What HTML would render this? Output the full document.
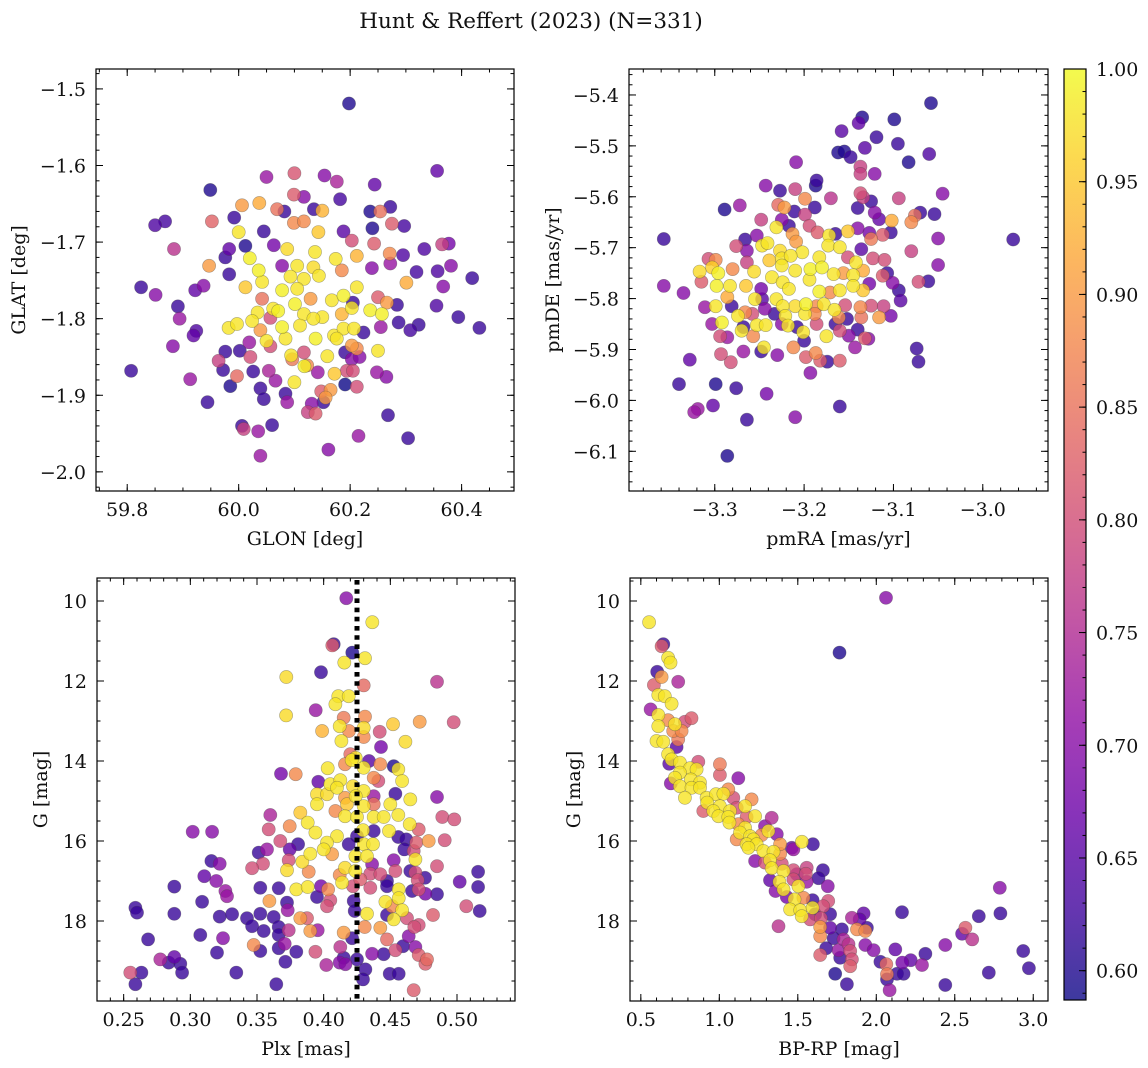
<!DOCTYPE html>
<html><head><meta charset="utf-8"><style>
html,body{margin:0;padding:0;background:#fff}
svg{display:block;font-family:"DejaVu Serif","Liberation Serif",serif}
</style></head><body>
<svg id="fig" width="1148" height="1068" viewBox="0 0 1148 1068" xmlns="http://www.w3.org/2000/svg">
<text x="531" y="28" font-size="21.5" text-anchor="middle" fill="#111">Hunt &amp; Reffert (2023) (N=331)</text>
</svg>
<script>
const p1Glon=[60.198,60.356,59.949,60.050,60.100,60.154,60.176,60.244,60.099,60.117,60.182,60.006,60.037,59.850,59.868,59.952,59.992,60.069,60.082,60.135,60.150,60.236,60.254,60.272,60.240,60.275,60.297,59.884,60.000,60.045,60.099,60.117,60.143,60.188,60.203,60.243,60.333,60.365,60.377,59.947,59.983,59.976,60.012,60.063,60.087,60.137,60.174,60.212,60.271,60.295,60.020,59.983,60.036,60.078,60.105,60.134,60.185,60.239,60.272,60.319,60.357,60.381,60.419,59.825,59.851,59.922,59.937,60.012,60.042,60.093,60.117,60.144,60.212,60.301,60.367,59.891,60.042,60.078,60.105,60.129,60.167,60.188,60.205,60.250,60.266,60.284,60.355,59.894,60.034,60.062,60.071,60.101,60.117,60.150,60.185,60.203,60.236,60.257,60.287,60.323,60.394,60.432,59.919,59.924,59.982,59.997,60.024,60.039,60.057,60.078,60.110,60.134,60.171,60.188,60.207,60.224,60.255,60.308,59.882,60.019,60.050,60.084,60.138,60.176,60.203,60.250,59.976,60.002,60.057,60.094,60.117,60.159,60.191,60.212,59.807,59.964,60.021,60.096,60.123,60.203,60.217,60.118,59.913,59.972,59.997,60.026,60.054,60.066,60.142,60.172,60.194,60.205,60.248,60.265,59.985,60.039,60.100,60.191,60.212,60.148,60.165,59.944,60.045,60.084,60.087,60.131,60.152,60.156,60.124,60.138,60.268,60.006,60.009,60.060,60.035,60.215,60.304,60.161,60.039];
const p1Glat=[-1.519,-1.607,-1.632,-1.615,-1.610,-1.613,-1.621,-1.625,-1.638,-1.641,-1.644,-1.652,-1.649,-1.678,-1.673,-1.673,-1.668,-1.657,-1.660,-1.657,-1.659,-1.660,-1.660,-1.654,-1.682,-1.676,-1.679,-1.709,-1.687,-1.686,-1.675,-1.673,-1.687,-1.686,-1.698,-1.702,-1.709,-1.703,-1.702,-1.731,-1.709,-1.720,-1.705,-1.704,-1.709,-1.713,-1.722,-1.718,-1.715,-1.717,-1.721,-1.742,-1.737,-1.731,-1.731,-1.733,-1.737,-1.734,-1.728,-1.739,-1.738,-1.731,-1.747,-1.759,-1.769,-1.763,-1.757,-1.759,-1.752,-1.745,-1.748,-1.744,-1.759,-1.753,-1.758,-1.784,-1.774,-1.763,-1.761,-1.774,-1.776,-1.770,-1.779,-1.772,-1.779,-1.782,-1.783,-1.800,-1.792,-1.787,-1.790,-1.781,-1.794,-1.798,-1.794,-1.786,-1.789,-1.794,-1.805,-1.808,-1.798,-1.812,-1.822,-1.816,-1.812,-1.807,-1.803,-1.815,-1.799,-1.811,-1.809,-1.800,-1.822,-1.813,-1.813,-1.818,-1.811,-1.815,-1.836,-1.831,-1.829,-1.826,-1.826,-1.826,-1.835,-1.842,-1.843,-1.842,-1.836,-1.848,-1.844,-1.849,-1.844,-1.839,-1.868,-1.855,-1.850,-1.853,-1.861,-1.853,-1.850,-1.862,-1.879,-1.867,-1.875,-1.869,-1.868,-1.881,-1.870,-1.872,-1.868,-1.868,-1.870,-1.876,-1.888,-1.891,-1.883,-1.886,-1.889,-1.895,-1.893,-1.909,-1.905,-1.898,-1.909,-1.911,-1.909,-1.903,-1.922,-1.924,-1.926,-1.940,-1.944,-1.939,-1.947,-1.953,-1.956,-1.971,-1.979];
const p1Prob=[0.60,0.66,0.60,0.72,0.81,0.70,0.74,0.66,0.82,0.70,0.63,0.90,0.92,0.64,0.63,0.83,0.62,0.85,0.62,0.62,0.93,0.60,0.85,0.62,0.60,0.82,0.63,0.76,0.98,0.62,0.88,0.88,0.95,0.65,0.80,0.82,0.64,0.78,0.68,0.90,0.66,0.62,0.60,0.68,0.97,0.98,0.98,0.93,0.88,0.64,0.99,0.62,0.99,0.70,0.98,0.97,0.88,0.70,0.72,0.63,0.64,0.70,0.62,0.62,0.70,0.66,0.70,0.95,0.98,0.98,0.98,0.98,0.98,0.92,0.70,0.62,0.85,0.99,0.98,0.90,0.98,0.99,0.62,0.82,0.90,0.62,0.64,0.72,0.98,0.98,0.99,0.99,0.98,0.98,0.93,0.98,0.99,0.99,0.62,0.62,0.62,0.62,0.66,0.64,0.98,0.98,0.98,0.90,0.80,0.99,0.98,0.98,0.98,0.98,0.98,0.62,0.72,0.63,0.70,0.72,0.98,0.98,0.99,0.98,0.90,0.98,0.62,0.62,0.80,0.98,0.80,0.98,0.62,0.88,0.62,0.78,0.80,0.86,0.88,0.70,0.70,0.99,0.72,0.62,0.84,0.62,0.74,0.72,0.72,0.95,0.80,0.80,0.72,0.70,0.60,0.62,0.98,0.58,0.80,0.82,0.90,0.62,0.62,0.62,0.72,0.70,0.62,0.90,0.78,0.82,0.62,0.62,0.78,0.62,0.72,0.72,0.62,0.70,0.72];

const p2PmRA=[-3.058,-3.135,-3.139,-3.099,-3.158,-3.119,-3.095,-3.132,-3.162,-3.155,-3.148,-3.060,-3.083,-3.209,-3.137,-3.121,-3.137,-3.186,-3.187,-3.243,-3.227,-3.210,-3.137,-3.134,-3.125,-3.045,-3.199,-3.170,-3.094,-3.289,-3.272,-3.229,-3.222,-3.188,-3.140,-3.211,-3.199,-3.121,-3.070,-3.054,-3.248,-3.225,-3.116,-3.102,-3.076,-3.080,-3.231,-3.217,-3.194,-3.151,-3.140,-3.127,-3.103,-3.357,-2.966,-3.253,-3.266,-3.213,-3.185,-3.172,-3.165,-3.125,-3.112,-3.050,-3.276,-3.264,-3.247,-3.241,-3.227,-3.209,-3.202,-3.173,-3.160,-3.136,-3.080,-3.307,-3.299,-3.264,-3.239,-3.225,-3.215,-3.183,-3.151,-3.142,-3.123,-3.110,-3.050,-3.317,-3.303,-3.296,-3.280,-3.256,-3.236,-3.225,-3.210,-3.193,-3.180,-3.167,-3.156,-3.145,-3.134,-3.112,-3.107,-3.101,-3.072,-3.061,-3.357,-3.335,-3.315,-3.298,-3.283,-3.265,-3.248,-3.224,-3.217,-3.194,-3.183,-3.171,-3.160,-3.145,-3.134,-3.127,-3.094,-3.092,-3.286,-3.299,-3.281,-3.255,-3.247,-3.231,-3.224,-3.210,-3.198,-3.186,-3.178,-3.166,-3.154,-3.137,-3.125,-3.111,-3.311,-3.274,-3.266,-3.258,-3.244,-3.233,-3.221,-3.199,-3.188,-3.161,-3.152,-3.136,-3.116,-3.103,-3.303,-3.292,-3.268,-3.253,-3.243,-3.225,-3.218,-3.208,-3.186,-3.165,-3.160,-3.140,-3.270,-3.201,-3.294,-3.286,-3.257,-3.175,-3.150,-3.132,-3.128,-3.200,-3.143,-3.245,-3.248,-3.268,-3.212,-3.293,-3.230,-3.198,-3.187,-3.160,-3.174,-3.182,-3.282,-3.074,-3.072,-3.328,-3.193,-3.340,-3.299,-3.276,-3.242,-3.160,-3.302,-3.319,-3.323,-3.264,-3.210,-3.286];
const p2PmDE=[-5.416,-5.444,-5.455,-5.448,-5.471,-5.483,-5.496,-5.504,-5.513,-5.511,-5.522,-5.516,-5.532,-5.532,-5.541,-5.555,-5.555,-5.568,-5.578,-5.578,-5.588,-5.585,-5.593,-5.601,-5.609,-5.594,-5.604,-5.603,-5.603,-5.625,-5.617,-5.616,-5.621,-5.621,-5.622,-5.629,-5.635,-5.631,-5.631,-5.634,-5.645,-5.645,-5.644,-5.647,-5.637,-5.650,-5.660,-5.657,-5.657,-5.668,-5.662,-5.671,-5.670,-5.683,-5.684,-5.676,-5.684,-5.673,-5.670,-5.676,-5.673,-5.683,-5.675,-5.682,-5.697,-5.706,-5.696,-5.691,-5.706,-5.688,-5.709,-5.696,-5.699,-5.703,-5.707,-5.722,-5.724,-5.729,-5.725,-5.721,-5.716,-5.719,-5.719,-5.729,-5.721,-5.724,-5.734,-5.747,-5.739,-5.750,-5.742,-5.747,-5.758,-5.735,-5.745,-5.742,-5.739,-5.752,-5.750,-5.754,-5.745,-5.755,-5.750,-5.769,-5.767,-5.766,-5.775,-5.789,-5.767,-5.775,-5.775,-5.775,-5.781,-5.768,-5.781,-5.763,-5.786,-5.788,-5.784,-5.775,-5.784,-5.771,-5.784,-5.804,-5.797,-5.815,-5.815,-5.801,-5.801,-5.801,-5.815,-5.815,-5.811,-5.815,-5.811,-5.822,-5.813,-5.817,-5.814,-5.815,-5.817,-5.834,-5.827,-5.830,-5.820,-5.830,-5.834,-5.830,-5.830,-5.837,-5.840,-5.837,-5.837,-5.834,-5.850,-5.847,-5.856,-5.852,-5.852,-5.850,-5.853,-5.856,-5.850,-5.850,-5.863,-5.861,-5.863,-5.866,-5.874,-5.876,-5.874,-5.874,-5.873,-5.878,-5.879,-5.883,-5.896,-5.896,-5.904,-5.904,-5.896,-5.909,-5.911,-5.915,-5.907,-5.922,-5.924,-5.922,-5.925,-5.898,-5.924,-5.920,-5.946,-5.968,-5.968,-5.976,-5.987,-6.012,-6.010,-6.017,-6.023,-6.038,-6.033,-6.109];
const p2Prob=[0.60,0.60,0.66,0.60,0.65,0.62,0.62,0.65,0.60,0.60,0.62,0.64,0.60,0.70,0.78,0.70,0.78,0.62,0.60,0.70,0.62,0.78,0.80,0.78,0.62,0.70,0.88,0.76,0.78,0.60,0.72,0.84,0.90,0.62,0.62,0.62,0.78,0.70,0.62,0.62,0.78,0.70,0.66,0.92,0.85,0.88,0.98,0.62,0.80,0.95,0.70,0.68,0.62,0.62,0.62,0.70,0.62,0.90,0.82,0.98,0.62,0.86,0.82,0.70,0.80,0.70,0.98,0.98,0.97,0.90,0.98,0.98,0.98,0.65,0.78,0.80,0.88,0.78,0.95,0.98,0.98,0.98,0.80,0.98,0.80,0.80,0.70,0.97,0.96,0.99,0.88,0.97,0.98,0.98,0.98,0.99,0.99,0.98,0.90,0.98,0.92,0.82,0.62,0.70,0.80,0.62,0.70,0.70,0.82,0.99,0.98,0.95,0.68,0.98,0.98,0.98,0.99,0.88,0.98,0.98,0.95,0.68,0.62,0.65,0.92,0.98,0.62,0.98,0.65,0.98,0.98,0.97,0.99,0.88,0.98,0.98,0.80,0.88,0.80,0.78,0.72,0.98,0.88,0.80,0.70,0.62,0.98,0.98,0.88,0.88,0.62,0.85,0.90,0.68,0.72,0.99,0.62,0.98,0.98,0.70,0.98,0.62,0.80,0.62,0.80,0.62,0.98,0.98,0.80,0.72,0.88,0.98,0.70,0.82,0.70,0.62,0.72,0.98,0.62,0.72,0.88,0.80,0.70,0.82,0.88,0.82,0.62,0.82,0.80,0.62,0.62,0.66,0.70,0.62,0.60,0.62,0.68,0.62,0.66,0.72,0.72,0.62,0.70,0.60];

const p3Plx=[0.417,0.4365,0.4075,0.4065,0.4215,0.4155,0.431,0.398,0.372,0.43,0.485,0.411,0.4188,0.4088,0.394,0.3718,0.415,0.431,0.472,0.4975,0.3988,0.412,0.419,0.43,0.442,0.452,0.4133,0.43,0.4613,0.443,0.42,0.424,0.434,0.4425,0.368,0.379,0.403,0.416,0.421,0.43,0.4375,0.4525,0.456,0.4588,0.396,0.405,0.4125,0.41,0.422,0.43,0.441,0.395,0.4025,0.416,0.424,0.4375,0.4538,0.485,0.395,0.4175,0.43,0.4375,0.45,0.465,0.3825,0.4088,0.416,0.425,0.4375,0.445,0.456,0.4645,0.489,0.498,0.36,0.388,0.4295,0.4375,0.449,0.4713,0.3018,0.3163,0.3588,0.3745,0.3938,0.41,0.425,0.456,0.462,0.4025,0.3675,0.3808,0.4188,0.43,0.437,0.4695,0.4788,0.4908,0.3513,0.3575,0.3745,0.4063,0.4,0.4238,0.4325,0.39,0.4605,0.4675,0.3158,0.322,0.3545,0.3738,0.384,0.4525,0.4688,0.3463,0.3725,0.3888,0.416,0.4238,0.4363,0.435,0.4538,0.465,0.485,0.5158,0.3105,0.412,0.4275,0.4425,0.4688,0.476,0.502,0.3195,0.4138,0.4475,0.4705,0.288,0.3263,0.3525,0.3663,0.3795,0.388,0.398,0.4033,0.422,0.435,0.4475,0.4563,0.4663,0.4713,0.5158,0.3275,0.395,0.405,0.4225,0.4563,0.4763,0.485,0.3088,0.3593,0.3725,0.4025,0.4463,0.4513,0.2588,0.26,0.288,0.322,0.3313,0.3425,0.3525,0.3625,0.373,0.3825,0.3875,0.4233,0.4325,0.4475,0.4588,0.4525,0.4625,0.482,0.507,0.517,0.3463,0.355,0.3663,0.3738,0.39,0.3955,0.415,0.4308,0.4425,0.4713,0.468,0.2683,0.3075,0.3245,0.3663,0.4213,0.4475,0.4638,0.3475,0.3525,0.3663,0.3708,0.3795,0.3938,0.4125,0.4363,0.445,0.4538,0.4595,0.4688,0.32,0.2775,0.2838,0.288,0.2925,0.2938,0.415,0.412,0.4163,0.425,0.3713,0.402,0.4713,0.4763,0.4775,0.255,0.2633,0.2588,0.3345,0.3645,0.4313,0.4295,0.4495,0.4563,0.4675];
const p3G=[9.93,10.53,11.08,11.11,11.29,11.54,11.43,11.78,11.90,12.11,12.02,12.38,12.38,12.58,12.73,12.86,12.92,12.89,13.02,13.03,13.25,13.13,13.25,13.17,13.27,13.08,13.5,13.4,13.52,13.65,13.83,13.92,14.0,14.08,14.32,14.33,14.18,14.08,13.98,14.17,14.42,14.13,14.21,14.5,14.52,14.58,14.48,14.67,14.63,14.75,14.5,14.83,14.83,14.92,14.88,14.88,14.82,14.9,15.08,15.08,15.13,15.08,15.08,14.96,15.29,15.25,15.38,15.4,15.4,15.4,15.35,15.58,15.4,15.46,15.35,15.54,15.73,15.75,15.75,15.71,15.77,15.77,15.71,15.63,15.79,15.88,15.88,15.9,15.96,16.04,16.0,16.08,16.08,16.08,16.08,16.04,16.0,15.98,16.29,16.21,16.21,16.33,16.21,16.38,16.38,16.32,16.21,16.25,16.5,16.57,16.57,16.48,16.52,16.48,16.46,16.68,16.73,16.77,16.67,16.75,16.58,16.82,16.75,16.75,16.63,16.77,16.88,16.85,16.96,16.83,16.79,16.92,17.02,17.0,17.04,17.0,16.98,17.14,17.25,17.17,17.18,17.21,17.15,17.13,17.21,17.13,17.17,17.13,17.21,17.25,17.21,17.15,17.38,17.4,17.48,17.5,17.43,17.32,17.33,17.52,17.5,17.54,17.63,17.52,17.63,17.67,17.79,17.82,17.89,17.83,17.93,17.82,17.9,17.73,17.93,17.93,17.75,17.82,17.85,17.73,17.96,17.93,17.85,17.63,17.75,18.13,18.25,18.15,18.23,18.25,18.23,18.29,18.15,18.17,18.1,18.15,18.46,18.35,18.43,18.35,18.43,18.46,18.38,18.6,18.75,18.68,18.57,18.77,18.77,18.65,18.82,18.83,18.73,18.63,18.65,18.79,18.96,19.04,18.9,19.07,19.29,18.92,19.04,19.08,18.96,19.02,19.1,18.85,19.07,18.96,19.29,19.29,19.58,19.29,19.58,19.21,19.46,19.32,19.32,19.73];
const p3Prob=[0.70,0.98,0.62,0.82,0.60,0.98,0.98,0.62,0.97,0.84,0.76,0.98,0.98,0.98,0.72,0.97,0.86,0.88,0.90,0.80,0.93,0.98,0.88,0.97,0.80,0.95,0.98,0.88,0.97,0.68,0.84,0.98,0.65,0.88,0.68,0.88,0.98,0.88,0.98,0.98,0.88,0.60,0.98,0.98,0.66,0.98,0.98,0.98,0.97,0.98,0.80,0.97,0.97,0.90,0.98,0.72,0.62,0.70,0.98,0.95,0.98,0.85,0.98,0.98,0.95,0.88,0.98,0.98,0.98,0.98,0.98,0.98,0.80,0.80,0.74,0.98,0.98,0.62,0.98,0.82,0.70,0.70,0.80,0.88,0.98,0.98,0.62,0.62,0.62,0.98,0.80,0.62,0.62,0.98,0.98,0.82,0.90,0.80,0.62,0.72,0.66,0.90,0.98,0.98,0.98,0.98,0.62,0.80,0.62,0.70,0.80,0.80,0.97,0.70,0.98,0.80,0.97,0.88,0.97,0.98,0.70,0.80,0.80,0.62,0.80,0.62,0.66,0.88,0.82,0.80,0.80,0.62,0.66,0.70,0.98,0.62,0.80,0.62,0.72,0.62,0.62,0.98,0.98,0.68,0.88,0.80,0.80,0.62,0.98,0.62,0.80,0.62,0.72,0.62,0.80,0.62,0.98,0.68,0.62,0.62,0.90,0.62,0.80,0.98,0.88,0.62,0.62,0.62,0.62,0.62,0.62,0.62,0.62,0.72,0.90,0.82,0.62,0.98,0.62,0.98,0.98,0.80,0.82,0.80,0.62,0.62,0.62,0.62,0.76,0.90,0.72,0.90,0.88,0.90,0.80,0.80,0.62,0.62,0.70,0.62,0.62,0.84,0.70,0.88,0.62,0.62,0.72,0.62,0.80,0.76,0.70,0.62,0.80,0.62,0.70,0.62,0.74,0.62,0.66,0.62,0.62,0.62,0.70,0.70,0.62,0.62,0.74,0.82,0.82,0.84,0.80,0.62,0.62,0.62,0.62,0.62,0.62,0.62,0.62,0.82,0.72];
const p3RefPlx=[0.425];

const p4BpRp=[2.062,0.553,0.643,0.632,1.766,0.674,0.689,0.604,0.632,0.738,0.583,0.611,0.653,0.696,0.562,0.611,0.674,0.717,0.781,0.823,0.611,0.706,0.760,0.738,0.600,0.643,0.728,0.674,0.696,0.681,0.749,0.866,1.004,0.813,0.855,0.749,1.004,1.121,0.717,0.819,0.691,0.877,0.749,0.823,0.877,1.057,0.781,0.919,0.979,1.026,1.089,1.206,0.923,1.004,1.111,1.164,0.898,0.962,1.068,0.994,1.057,1.174,1.228,1.334,1.064,1.121,1.164,1.291,1.313,1.132,1.196,1.270,1.366,1.111,1.217,1.174,1.238,1.387,1.526,1.596,1.462,1.472,1.185,1.281,1.345,1.387,1.228,1.323,1.398,1.291,1.334,1.409,1.472,1.557,1.660,1.494,1.551,1.632,1.323,1.383,1.472,1.504,1.557,1.691,1.358,1.409,1.430,1.479,1.536,1.594,1.694,1.662,2.787,2.164,1.451,1.515,1.594,1.611,1.706,2.791,2.653,1.525,1.579,1.647,1.845,1.919,1.894,1.377,1.643,1.706,1.781,1.877,1.940,1.930,2.568,2.547,2.611,1.643,1.728,1.791,1.823,1.930,2.440,2.936,1.681,1.760,1.834,1.983,2.121,2.313,1.643,1.770,1.845,2.026,2.064,2.219,2.166,2.291,1.834,1.738,2.068,2.132,2.174,2.717,2.972,1.813,2.440,2.068,2.085];
const p4G=[9.92,10.53,11.08,11.13,11.29,11.42,11.54,11.77,11.9,12.02,12.1,12.35,12.38,12.57,12.71,12.85,12.98,13.08,13.02,12.93,13.13,13.25,13.25,13.46,13.5,13.52,13.65,13.83,13.96,14.07,14.04,14.02,14.08,14.18,14.21,14.29,14.35,14.43,14.42,14.46,14.56,14.54,14.63,14.67,14.67,14.71,14.92,14.92,14.83,14.82,14.92,14.96,15.04,15.13,15.17,15.13,15.25,15.25,15.25,15.38,15.4,15.4,15.38,15.42,15.54,15.58,15.67,15.63,15.75,15.79,15.88,15.85,15.83,15.96,15.96,16.08,16.08,16.08,16.02,16.08,16.17,16.21,16.17,16.25,16.27,16.32,16.5,16.48,16.57,16.54,16.68,16.75,16.73,16.67,16.73,16.83,16.82,16.93,16.98,17.02,16.96,17.13,17.02,17.13,17.25,17.21,17.4,17.46,17.42,17.48,17.5,17.63,17.17,17.78,17.71,17.73,17.67,17.83,17.83,17.81,17.88,17.88,17.96,17.93,17.92,17.81,17.96,18.13,18.15,18.17,18.21,18.21,18.17,18.25,18.17,18.32,18.46,18.38,18.43,18.46,18.58,18.6,18.6,18.75,18.68,18.73,18.75,18.73,18.71,18.82,18.85,18.92,18.96,19.02,19.08,18.98,19.04,19.1,19.13,19.32,19.33,19.32,19.32,19.29,19.18,19.58,19.6,19.46,19.73];
const p4Prob=[0.70,0.98,0.62,0.82,0.60,0.98,0.98,0.62,0.90,0.74,0.82,0.98,0.98,0.98,0.72,0.98,0.88,0.98,0.80,0.82,0.98,0.88,0.88,0.86,0.98,0.98,0.65,0.98,0.98,0.65,0.98,0.80,0.86,0.98,0.98,0.98,0.82,0.70,0.98,0.98,0.70,0.98,0.98,0.98,0.98,0.88,0.98,0.98,0.98,0.98,0.80,0.88,0.98,0.98,0.80,0.98,0.82,0.98,0.98,0.98,0.98,0.82,0.98,0.75,0.98,0.88,0.98,0.70,0.98,0.98,0.98,0.88,0.70,0.88,0.98,0.98,0.98,0.90,0.98,0.62,0.66,0.72,0.98,0.98,0.98,0.88,0.70,0.98,0.80,0.80,0.98,0.98,0.80,0.78,0.62,0.70,0.80,0.62,0.66,0.98,0.80,0.98,0.72,0.70,0.70,0.98,0.68,0.98,0.88,0.62,0.80,0.80,0.70,0.62,0.98,0.98,0.98,0.62,0.62,0.62,0.62,0.98,0.80,0.80,0.74,0.66,0.66,0.76,0.90,0.66,0.62,0.88,0.62,0.88,0.82,0.66,0.76,0.88,0.62,0.74,0.76,0.70,0.70,0.62,0.62,0.72,0.80,0.70,0.66,0.62,0.82,0.62,0.80,0.62,0.84,0.66,0.68,0.72,0.82,0.60,0.86,0.62,0.62,0.62,0.62,0.62,0.62,0.62,0.72];

const cbarTicks=[0.60,0.65,0.70,0.75,0.80,0.85,0.90,0.95,1.00];

const NS="http://www.w3.org/2000/svg";
const svg=document.getElementById('fig');
const FS=19;
function mk(tag,attrs,parent){const e=document.createElementNS(NS,tag);for(const k in attrs)e.setAttribute(k,attrs[k]);(parent||svg).appendChild(e);return e;}
const plasma=[[13,8,135],[65,4,157],[106,0,168],[143,13,164],[177,42,144],[204,71,120],[225,100,98],[242,132,75],[252,166,54],[252,206,37],[240,249,33]];
const VMIN=0.587,VMAX=1.0;
function cmap(p){let t=(p-VMIN)/(VMAX-VMIN);t=Math.max(0,Math.min(1,t));const f=t*10,i=Math.min(9,Math.floor(f)),u=f-i;const a=plasma[i],b=plasma[i+1];return 'rgb('+a.map((v,k)=>Math.round(v+(b[k]-v)*u)).join(',')+')';}
function fmt(v,d){return (v<0?'\u2212':'')+Math.abs(v).toFixed(d);}
function range(a,b,s){const r=[];const n=Math.round((b-a)/s);for(let i=0;i<=n;i++)r.push(+(a+i*s).toFixed(6));return r;}

function panel(cfg){
  const {x0,x1,y0,y1,xd,yd,name}=cfg;
  const g=mk('g',{});
  
  
  const sx=v=>x0+(v-xd[0])/(xd[1]-xd[0])*(x1-x0);
  const sy=v=>y0+(v-yd[0])/(yd[1]-yd[0])*(y1-y0);
  const clip='clip-'+name;
  const cp=mk('clipPath',{id:clip},g);mk('rect',{x:x0,y:y0,width:x1-x0,height:y1-y0},cp);
  const pts=mk('g',{'clip-path':'url(#'+clip+')'},g);
  
  
  const n=Math.min(cfg.xs.length,cfg.ys.length,cfg.ps.length);
  const idx=[];for(let i=0;i<n;i++)idx.push(i);
  idx.sort((a,b)=>cfg.ps[a]-cfg.ps[b]);
  idx.forEach(i=>{
    const c=mk('circle',{cx:sx(cfg.xs[i]).toFixed(1),cy:sy(cfg.ys[i]).toFixed(1),r:6.6,fill:cmap(cfg.ps[i]),'fill-opacity':0.8,stroke:'rgba(70,70,70,0.45)','stroke-width':0.6},pts);
    
    
  });
  if(cfg.vline!==undefined){
    const l=mk('line',{x1:sx(cfg.vline),x2:sx(cfg.vline),y1:y0+2,y2:y1,stroke:'#000','stroke-width':5,'stroke-dasharray':'4.6 4.6'},g);
    
    
  }
  const fr=mk('rect',{x:x0,y:y0,width:x1-x0,height:y1-y0,fill:'none',stroke:'#000','stroke-width':1.2},g);
  
  
  const tg=mk('g',{stroke:'#000','stroke-width':1},g);
  cfg.xminor.forEach(v=>{const X=sx(v);if(X<x0||X>x1)return;mk('line',{x1:X,x2:X,y1:y1,y2:y1-3.5},tg);mk('line',{x1:X,x2:X,y1:y0,y2:y0+3.5},tg);});
  cfg.yminor.forEach(v=>{const Y=sy(v);if(Y<y0||Y>y1)return;mk('line',{x1:x0,x2:x0+3.5,y1:Y,y2:Y},tg);mk('line',{x1:x1,x2:x1-3.5,y1:Y,y2:Y},tg);});
  cfg.xmajor.forEach(v=>{const X=sx(v);mk('line',{x1:X,x2:X,y1:y1,y2:y1-7},tg);mk('line',{x1:X,x2:X,y1:y0,y2:y0+7},tg);
    const t=mk('text',{x:X,y:y1+25,'font-size':FS,'text-anchor':'middle',fill:'#111'},g);t.textContent=fmt(v,cfg.xdec);
    
    });
  cfg.ymajor.forEach(v=>{const Y=sy(v);mk('line',{x1:x0,x2:x0+7,y1:Y,y2:Y},tg);mk('line',{x1:x1,x2:x1-7,y1:Y,y2:Y},tg);
    const t=mk('text',{x:x0-10,y:Y+7,'font-size':FS,'text-anchor':'end',fill:'#111'},g);t.textContent=fmt(v,cfg.ydec);
    
    });
  const xl=mk('text',{x:(x0+x1)/2,y:y1+54,'font-size':FS,'text-anchor':'middle',fill:'#111'},g);xl.textContent=cfg.xlabel;
  
  
  const yl=mk('text',{x:0,y:0,'font-size':FS,'text-anchor':'middle',fill:'#111',transform:'translate('+cfg.ylx+','+((y0+y1)/2)+') rotate(-90)'},g);yl.textContent=cfg.ylabel;
  
  
}

panel({name:'glon-glat',x0:96,x1:514,y0:69,y1:491,xd:[59.744,60.494],yd:[-1.474,-2.025],xs:p1Glon,ys:p1Glat,ps:p1Prob,
  xmajor:[59.8,60.0,60.2,60.4],xminor:range(59.75,60.5,0.05),ymajor:range(-2.0,-1.5,0.1),yminor:range(-2.02,-1.48,0.02),xdec:1,ydec:1,
  xlabel:'GLON [deg]',ylabel:'GLAT [deg]',ylx:25});
panel({name:'pm',x0:629,x1:1048,y0:69,y1:491,xd:[-3.396,-2.927],yd:[-5.349,-6.178],xs:p2PmRA,ys:p2PmDE,ps:p2Prob,
  xmajor:[-3.3,-3.2,-3.1,-3.0],xminor:range(-3.38,-2.94,0.02),ymajor:range(-6.1,-5.4,0.1),yminor:range(-6.16,-5.36,0.02),xdec:1,ydec:1,
  xlabel:'pmRA [mas/yr]',ylabel:'pmDE [mas/yr]',ylx:559});
panel({name:'plx-g',x0:97,x1:515,y0:578,y1:1001,xd:[0.23,0.5435],yd:[9.425,20.0],xs:p3Plx,ys:p3G,ps:p3Prob,vline:p3RefPlx[0],
  xmajor:[0.25,0.30,0.35,0.40,0.45,0.50],xminor:range(0.23,0.54,0.01),ymajor:[10,12,14,16,18],yminor:range(9.5,19.5,0.5),xdec:2,ydec:0,
  xlabel:'Plx [mas]',ylabel:'G [mag]',ylx:47});
panel({name:'cmd',x0:630,x1:1048,y0:578,y1:1001,xd:[0.431,3.094],yd:[9.425,20.0],xs:p4BpRp,ys:p4G,ps:p4Prob,
  xmajor:[0.5,1.0,1.5,2.0,2.5,3.0],xminor:range(0.5,3.0,0.1),ymajor:[10,12,14,16,18],yminor:range(9.5,19.5,0.5),xdec:1,ydec:0,
  xlabel:'BP-RP [mag]',ylabel:'G [mag]',ylx:580});

(function(){
  const cx0=1064,cx1=1086,cy0=69,cy1=1000;
  const cg=mk('g',{});
  
  
  const defs=mk('defs',{},cg);
  const lg=mk('linearGradient',{id:'cbg',x1:0,y1:1,x2:0,y2:0},defs);
  for(let i=0;i<=20;i++){const p=VMIN+(VMAX-VMIN)*i/20;mk('stop',{offset:i/20,'stop-color':cmap(p)},lg);}
  mk('rect',{x:cx0,y:cy0,width:cx1-cx0,height:cy1-cy0,fill:'url(#cbg)','fill-opacity':0.8},cg);
  mk('rect',{x:cx0,y:cy0,width:cx1-cx0,height:cy1-cy0,fill:'none',stroke:'#000','stroke-width':1.2},cg);
  const sy=v=>cy1-(v-VMIN)/(VMAX-VMIN)*(cy1-cy0);
  range(0.59,1.0,0.01).forEach(v=>{const Y=sy(v);mk('line',{x1:cx1,x2:cx1-3.5,y1:Y,y2:Y,stroke:'#000','stroke-width':1},cg);});
  cbarTicks.forEach(v=>{const Y=sy(v);mk('line',{x1:cx1,x2:cx1-7,y1:Y,y2:Y,stroke:'#000','stroke-width':1},cg);
    const t=mk('text',{x:cx1+10,y:Y+7,'font-size':FS,fill:'#111'},cg);t.textContent=v.toFixed(2);
    
    });
})();
</script>
</body></html>
